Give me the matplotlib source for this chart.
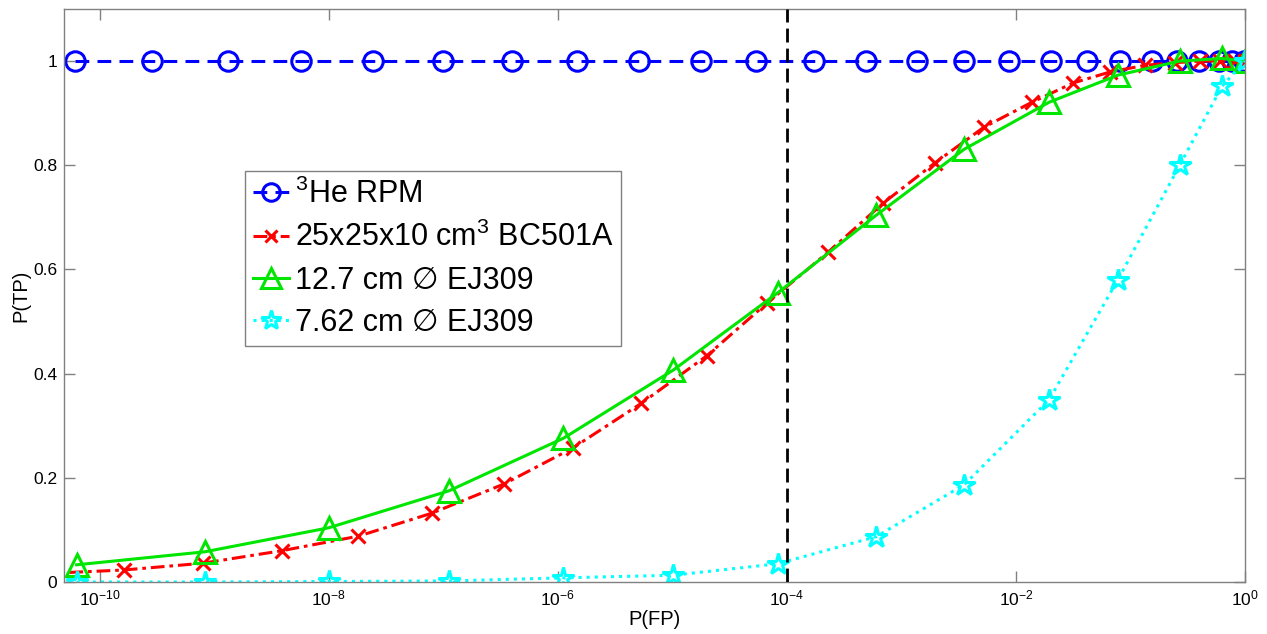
import numpy as np
import matplotlib
matplotlib.use("Agg")
import matplotlib.pyplot as plt

plt.rcParams['font.family'] = ['Liberation Sans', 'DejaVu Sans']
plt.rcParams['mathtext.fontset'] = 'custom'
plt.rcParams['mathtext.rm'] = 'Liberation Sans'
plt.rcParams['mathtext.it'] = 'Liberation Sans:italic'

# ---- data (log10 of P(FP), P(TP)) ----
he3_logx = [-10.21, -9.54, -8.88, -8.24, -7.61, -7.00, -6.40, -5.83, -5.29, -4.75,
            -4.27, -3.76, -3.31, -2.86, -2.45, -2.06, -1.69, -1.38, -1.09, -0.81,
            -0.59, -0.40, -0.23, -0.11, -0.01]
he3_y = [1.0] * len(he3_logx)

bc_logx = [-10.5, -9.79, -9.10, -8.41, -7.74, -7.10, -6.47, -5.87, -5.27, -4.70,
           -4.17, -3.64, -3.16, -2.71, -2.28, -1.86, -1.50, -1.18, -0.87, -0.61,
           -0.39, -0.22, -0.09, 0.0]
bc_y = [0.016, 0.023, 0.036, 0.060, 0.088, 0.132, 0.188, 0.257, 0.343, 0.434,
        0.536, 0.633, 0.727, 0.804, 0.873, 0.921, 0.958, 0.979, 0.992, 0.997,
        1.0, 1.0, 1.0, 1.0]

ej127_logx = [-10.20, -9.08, -8.00, -6.95, -5.95, -4.99, -4.08, -3.22, -2.45,
              -1.71, -1.11, -0.57, -0.20, 0.0]
ej127_y = [0.033, 0.058, 0.104, 0.175, 0.276, 0.407, 0.555, 0.704, 0.831,
           0.921, 0.973, 1.0, 1.005, 1.0]

ej762_logx = [-10.20, -9.08, -8.00, -6.95, -5.95, -4.99, -4.08, -3.22, -2.45,
              -1.71, -1.11, -0.57, -0.20, 0.0]
ej762_y = [0.0, 0.0, 0.001, 0.002, 0.008, 0.013, 0.035, 0.087, 0.187,
           0.350, 0.580, 0.800, 0.952, 1.0]

threshold_x = 1e-4

labels = [r'$^{3}$He RPM', r'25x25x10 cm$^{3}$ BC501A',
          '12.7 cm \u2205 EJ309', '7.62 cm \u2205 EJ309']
xticks = [1e-10, 1e-8, 1e-6, 1e-4, 1e-2, 1e0]
yticks = [0, 0.2, 0.4, 0.6, 0.8, 1.0]
ytick_labels = ['0', '0.2', '0.4', '0.6', '0.8', '1']

fig = plt.figure(figsize=(12.67, 6.34), dpi=100)
ax = fig.add_axes([64/1267, 1-582/634, (1245-64)/1267, (582-9)/634])

lw = 2.2
ax.plot(10**np.array(he3_logx), he3_y, color='#0000ff', lw=lw, dashes=(4.5, 2.7),
        marker='o', ms=14, mfc='none', mew=2.2, label=labels[0])
ax.plot(10**np.array(bc_logx), bc_y, color='#ff0000', lw=lw, dashes=(4.5, 1.6, 1.2, 1.6),
        marker='x', ms=10, mew=2.2, label=labels[1])
ax.plot(10**np.array(ej127_logx), ej127_y, color='#00e600', lw=lw, ls='-',
        marker='^', ms=16, mfc='none', mew=2.2, label=labels[2])
ax.plot(10**np.array(ej762_logx), ej762_y, color='#00ffff', lw=lw, ls=':',
        marker='*', ms=16, mfc='none', mew=2.2, label=labels[3])
ax.plot([threshold_x, threshold_x], [0, 1.1], color='black', lw=2.0, dashes=(5, 2.2), zorder=5)

ax.set_xscale('log')
ax.set_xlim(10**-10.31, 1.0)
ax.set_ylim(0, 1.1)
ax.set_xticks(xticks)
ax.xaxis.set_minor_locator(matplotlib.ticker.NullLocator())
ax.set_yticks(yticks)
ax.set_yticklabels(ytick_labels)
ax.tick_params(direction='in', length=8, width=1, color='#808080', labelsize=12.5,
               top=True, right=True, pad=5)
for s in ax.spines.values():
    s.set_color('#808080')
    s.set_linewidth(1.0)

ax.set_xlabel('P(FP)', fontsize=14.5, labelpad=1)
ax.set_ylabel('P(TP)', fontsize=14.5, labelpad=2)

leg = ax.legend(loc='upper left', bbox_to_anchor=((245-64)/1181, (582-171)/573),
                fontsize=22, frameon=True, fancybox=False, edgecolor='#808080',
                framealpha=1, handlelength=1.2, handletextpad=0.2, borderpad=0.25,
                labelspacing=0.4, borderaxespad=0, markerscale=0.9)
leg.get_frame().set_linewidth(1.0)

fig.savefig('out.png', dpi=100)
